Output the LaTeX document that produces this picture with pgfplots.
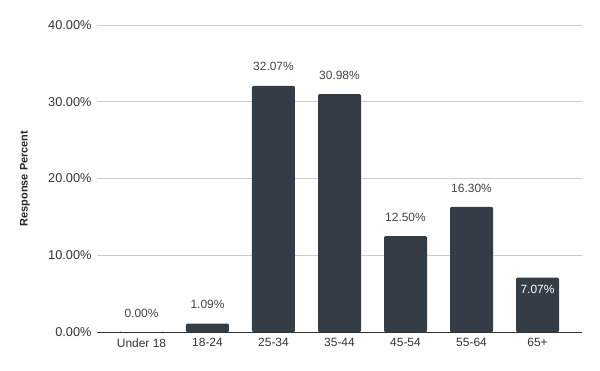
\documentclass[border=0pt]{standalone}
\usepackage{pgfplots}
\pgfplotsset{compat=1.18}
\usepackage{fontspec}
\setmainfont{Liberation Sans}
\definecolor{barc}{HTML}{343D46}
\definecolor{gridc}{HTML}{CCCCCC}
\definecolor{labc}{HTML}{444444}
\definecolor{tickc}{HTML}{333333}
\begin{document}
\begin{tikzpicture}
\useasboundingbox (-97bp,-39bp) rectangle (503bp,332bp);
\begin{axis}[
  at={(0,0)}, anchor=south west,
  scale only axis, width=485bp, height=307bp,
  ybar, bar width=43bp,
  xmin=-0.674, xmax=6.674, ymin=0, ymax=40,
  xtick={0,1,2,3,4,5,6},
  xticklabels={Under 18,18-24,25-34,35-44,45-54,55-64,65+},
  ytick={0,10,20,30,40},
  yticklabel={\pgfmathprintnumber[fixed,fixed zerofill,precision=2]{\tick}\%},
  /pgf/number format/assume math mode=true,
  axis line style={draw=none},
  major tick length=0pt,
  ymajorgrids, grid style={gridc, line width=0.8bp},
  x tick label style={font=\fontsize{12}{14}\selectfont, text=tickc, yshift=-3bp},
  y tick label style={font=\fontsize{12.8}{14}\selectfont, text=tickc, xshift=-2bp},
  ylabel={Response Percent},
  ylabel style={font=\fontsize{11}{13}\selectfont\bfseries, text=black!85, at={(axis description cs:0,0.5)}, anchor=center, yshift=72bp},
  clip=false,
]
\addplot[fill=barc, draw=none, bar shift=0pt, rounded corners=1.2bp,
  nodes near coords={\pgfmathprintnumber[fixed,fixed zerofill,precision=2]{\pgfplotspointmeta}\%},
  every node near coord/.append style={anchor=center, yshift=19bp, text=labc, font=\fontsize{12}{14}\selectfont, /pgf/number format/assume math mode=true}]
  coordinates {(0,0) (1,1.09) (2,32.07) (3,30.98) (4,12.50) (5,16.30)};
\addplot[fill=barc, draw=none, bar shift=0pt, rounded corners=1.2bp,
  nodes near coords={\pgfmathprintnumber[fixed,fixed zerofill,precision=2]{\pgfplotspointmeta}\%},
  every node near coord/.append style={anchor=center, yshift=-12bp, text=white, font=\fontsize{12}{14}\selectfont, /pgf/number format/assume math mode=true}]
  coordinates {(6,7.07)};
\draw[tickc, line width=1bp] (axis cs:-0.674,0) -- (axis cs:6.674,0);
\end{axis}
\end{tikzpicture}
\end{document}
